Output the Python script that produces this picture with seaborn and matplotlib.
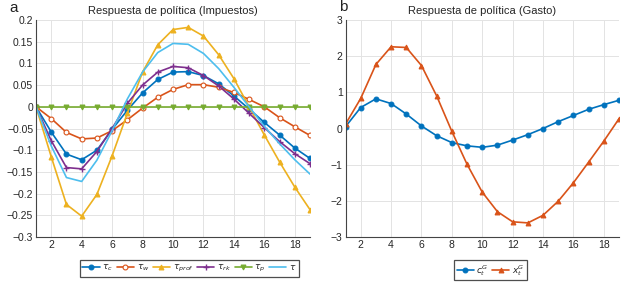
import numpy as np
import pandas as pd
import matplotlib
matplotlib.use("Agg")
import matplotlib.pyplot as plt
import seaborn as sns

periods = list(range(1, 20))

tau_c = [0, -0.058, -0.109, -0.122, -0.100, -0.052, -0.008, 0.032, 0.063, 0.080, 0.081, 0.072, 0.053, 0.025, -0.005, -0.036, -0.065, -0.095, -0.119]
tau_w = [0, -0.027, -0.059, -0.074, -0.072, -0.055, -0.030, -0.003, 0.022, 0.040, 0.051, 0.051, 0.045, 0.033, 0.017, 0.000, -0.025, -0.046, -0.066]
tau_prof = [0, -0.115, -0.225, -0.252, -0.202, -0.113, -0.015, 0.080, 0.143, 0.178, 0.183, 0.163, 0.120, 0.065, 0.000, -0.065, -0.127, -0.185, -0.237]
tau_rk = [0, -0.078, -0.140, -0.143, -0.103, -0.050, 0.008, 0.050, 0.080, 0.093, 0.090, 0.072, 0.048, 0.018, -0.015, -0.048, -0.080, -0.108, -0.131]
tau_p = [0] * 19
tau = [0, -0.090, -0.163, -0.172, -0.123, -0.055, 0.018, 0.080, 0.125, 0.146, 0.144, 0.123, 0.088, 0.045, 0.000, -0.045, -0.085, -0.122, -0.155]

c_G = [0.05, 0.58, 0.82, 0.69, 0.40, 0.07, -0.20, -0.39, -0.48, -0.52, -0.46, -0.32, -0.17, 0.00, 0.19, 0.36, 0.53, 0.66, 0.78]
x_G = [0.12, 0.83, 1.77, 2.26, 2.24, 1.74, 0.90, -0.08, -0.99, -1.76, -2.30, -2.58, -2.61, -2.40, -2.01, -1.50, -0.93, -0.35, 0.27]

labels_a = [r"$\tau_c$", r"$\tau_w$", r"$\tau_{prof}$", r"$\tau_{rk}$", r"$\tau_p$", r"$\tau$"]
labels_b = [r"$c_t^G$", r"$x_t^G$"]

sns.set_theme(style="whitegrid")
plt.rcParams['font.family'] = ['Liberation Sans', 'DejaVu Sans']
plt.rcParams['mathtext.fontset'] = 'dejavusans'

colors = ["#0072BD", "#D95319", "#EDB120", "#7E2F8E", "#77AC30", "#4DBEEE"]
markers = ["o", "o", "^", "+", "v", None]
face = [None, "white", None, None, None, None]

fig = plt.figure(figsize=(6.24, 2.82), dpi=100)
ax1 = fig.add_axes([36/624, 1-237/282, 274/624, 217/282])
ax2 = fig.add_axes([345.5/624, 1-237/282, 273.5/624, 217/282])

series_a = [tau_c, tau_w, tau_prof, tau_rk, tau_p, tau]
for vals, lab, col, mk, fc in zip(series_a, labels_a, colors, markers, face):
    kw = dict(marker=mk, markersize=3.5 if mk != "+" else 5, markeredgewidth=1 if mk == "+" else 0.8)
    if mk:
        kw["markeredgecolor"] = col
    if fc:
        kw["markerfacecolor"] = fc
    sns.lineplot(x=periods, y=vals, ax=ax1, color=col, label=lab, linewidth=1.2,
                 linestyle="-", dashes=False, **kw)

sns.lineplot(x=periods, y=c_G, ax=ax2, color=colors[0], label=labels_b[0], linewidth=1.2,
             linestyle="-", marker="o", markersize=3.5, markeredgecolor=colors[0])
sns.lineplot(x=periods, y=x_G, ax=ax2, color=colors[1], label=labels_b[1], linewidth=1.2,
             linestyle="-", marker="^", markersize=3.5, markeredgecolor=colors[1])

for ax in (ax1, ax2):
    ax.set_xlim(1, 19)
    ax.set_xticks(range(2, 20, 2))
    ax.grid(True, color="#e3e3e3", linewidth=0.7)
    for s in ["top", "right"]:
        ax.spines[s].set_visible(False)
    for s in ["left", "bottom"]:
        ax.spines[s].set_color("#444444")
        ax.spines[s].set_linewidth(0.8)
    ax.tick_params(axis="both", labelsize=7.5, colors="#262626", direction="in", length=2, pad=2)
    ax.set_xlabel("")
    ax.set_ylabel("")

ax1.set_ylim(-0.3, 0.2)
ax1.set_yticks([-0.3, -0.25, -0.2, -0.15, -0.1, -0.05, 0, 0.05, 0.1, 0.15, 0.2])
ax1.set_yticklabels(["\u22120.3", "\u22120.25", "\u22120.2", "\u22120.15", "\u22120.1", "\u22120.05", "0", "0.05", "0.1", "0.15", "0.2"])
ax2.set_ylim(-3, 3)
ax2.set_yticks([-3, -2, -1, 0, 1, 2, 3])
ax2.set_yticklabels(["\u22123", "\u22122", "\u22121", "0", "1", "2", "3"])

ax1.set_title("Respuesta de política (Impuestos)", fontsize=8, pad=4, color="#262626")
ax2.set_title("Respuesta de política (Gasto)", fontsize=8, pad=4, color="#262626")

leg1 = ax1.legend(loc="upper center", bbox_to_anchor=(0.56, -0.085), ncol=6, fontsize=6.5,
                  frameon=True, fancybox=False, edgecolor="#222222", handlelength=1.9,
                  columnspacing=0.4, handletextpad=0.3, borderpad=0.3)
leg1.get_frame().set_linewidth(0.9)
leg2 = ax2.legend(loc="upper center", bbox_to_anchor=(0.53, -0.085), ncol=2, fontsize=6.5,
                  frameon=True, fancybox=False, edgecolor="#222222", handlelength=1.9,
                  columnspacing=0.4, handletextpad=0.3, borderpad=0.3)
leg2.get_frame().set_linewidth(0.9)

fig.text(9/624, 1-8/282, "a", fontsize=11, color="#222222", va="center")
fig.text(339/624, 1-7/282, "b", fontsize=11, color="#222222", va="center")

fig.savefig("out.png", dpi=100, facecolor="white")
